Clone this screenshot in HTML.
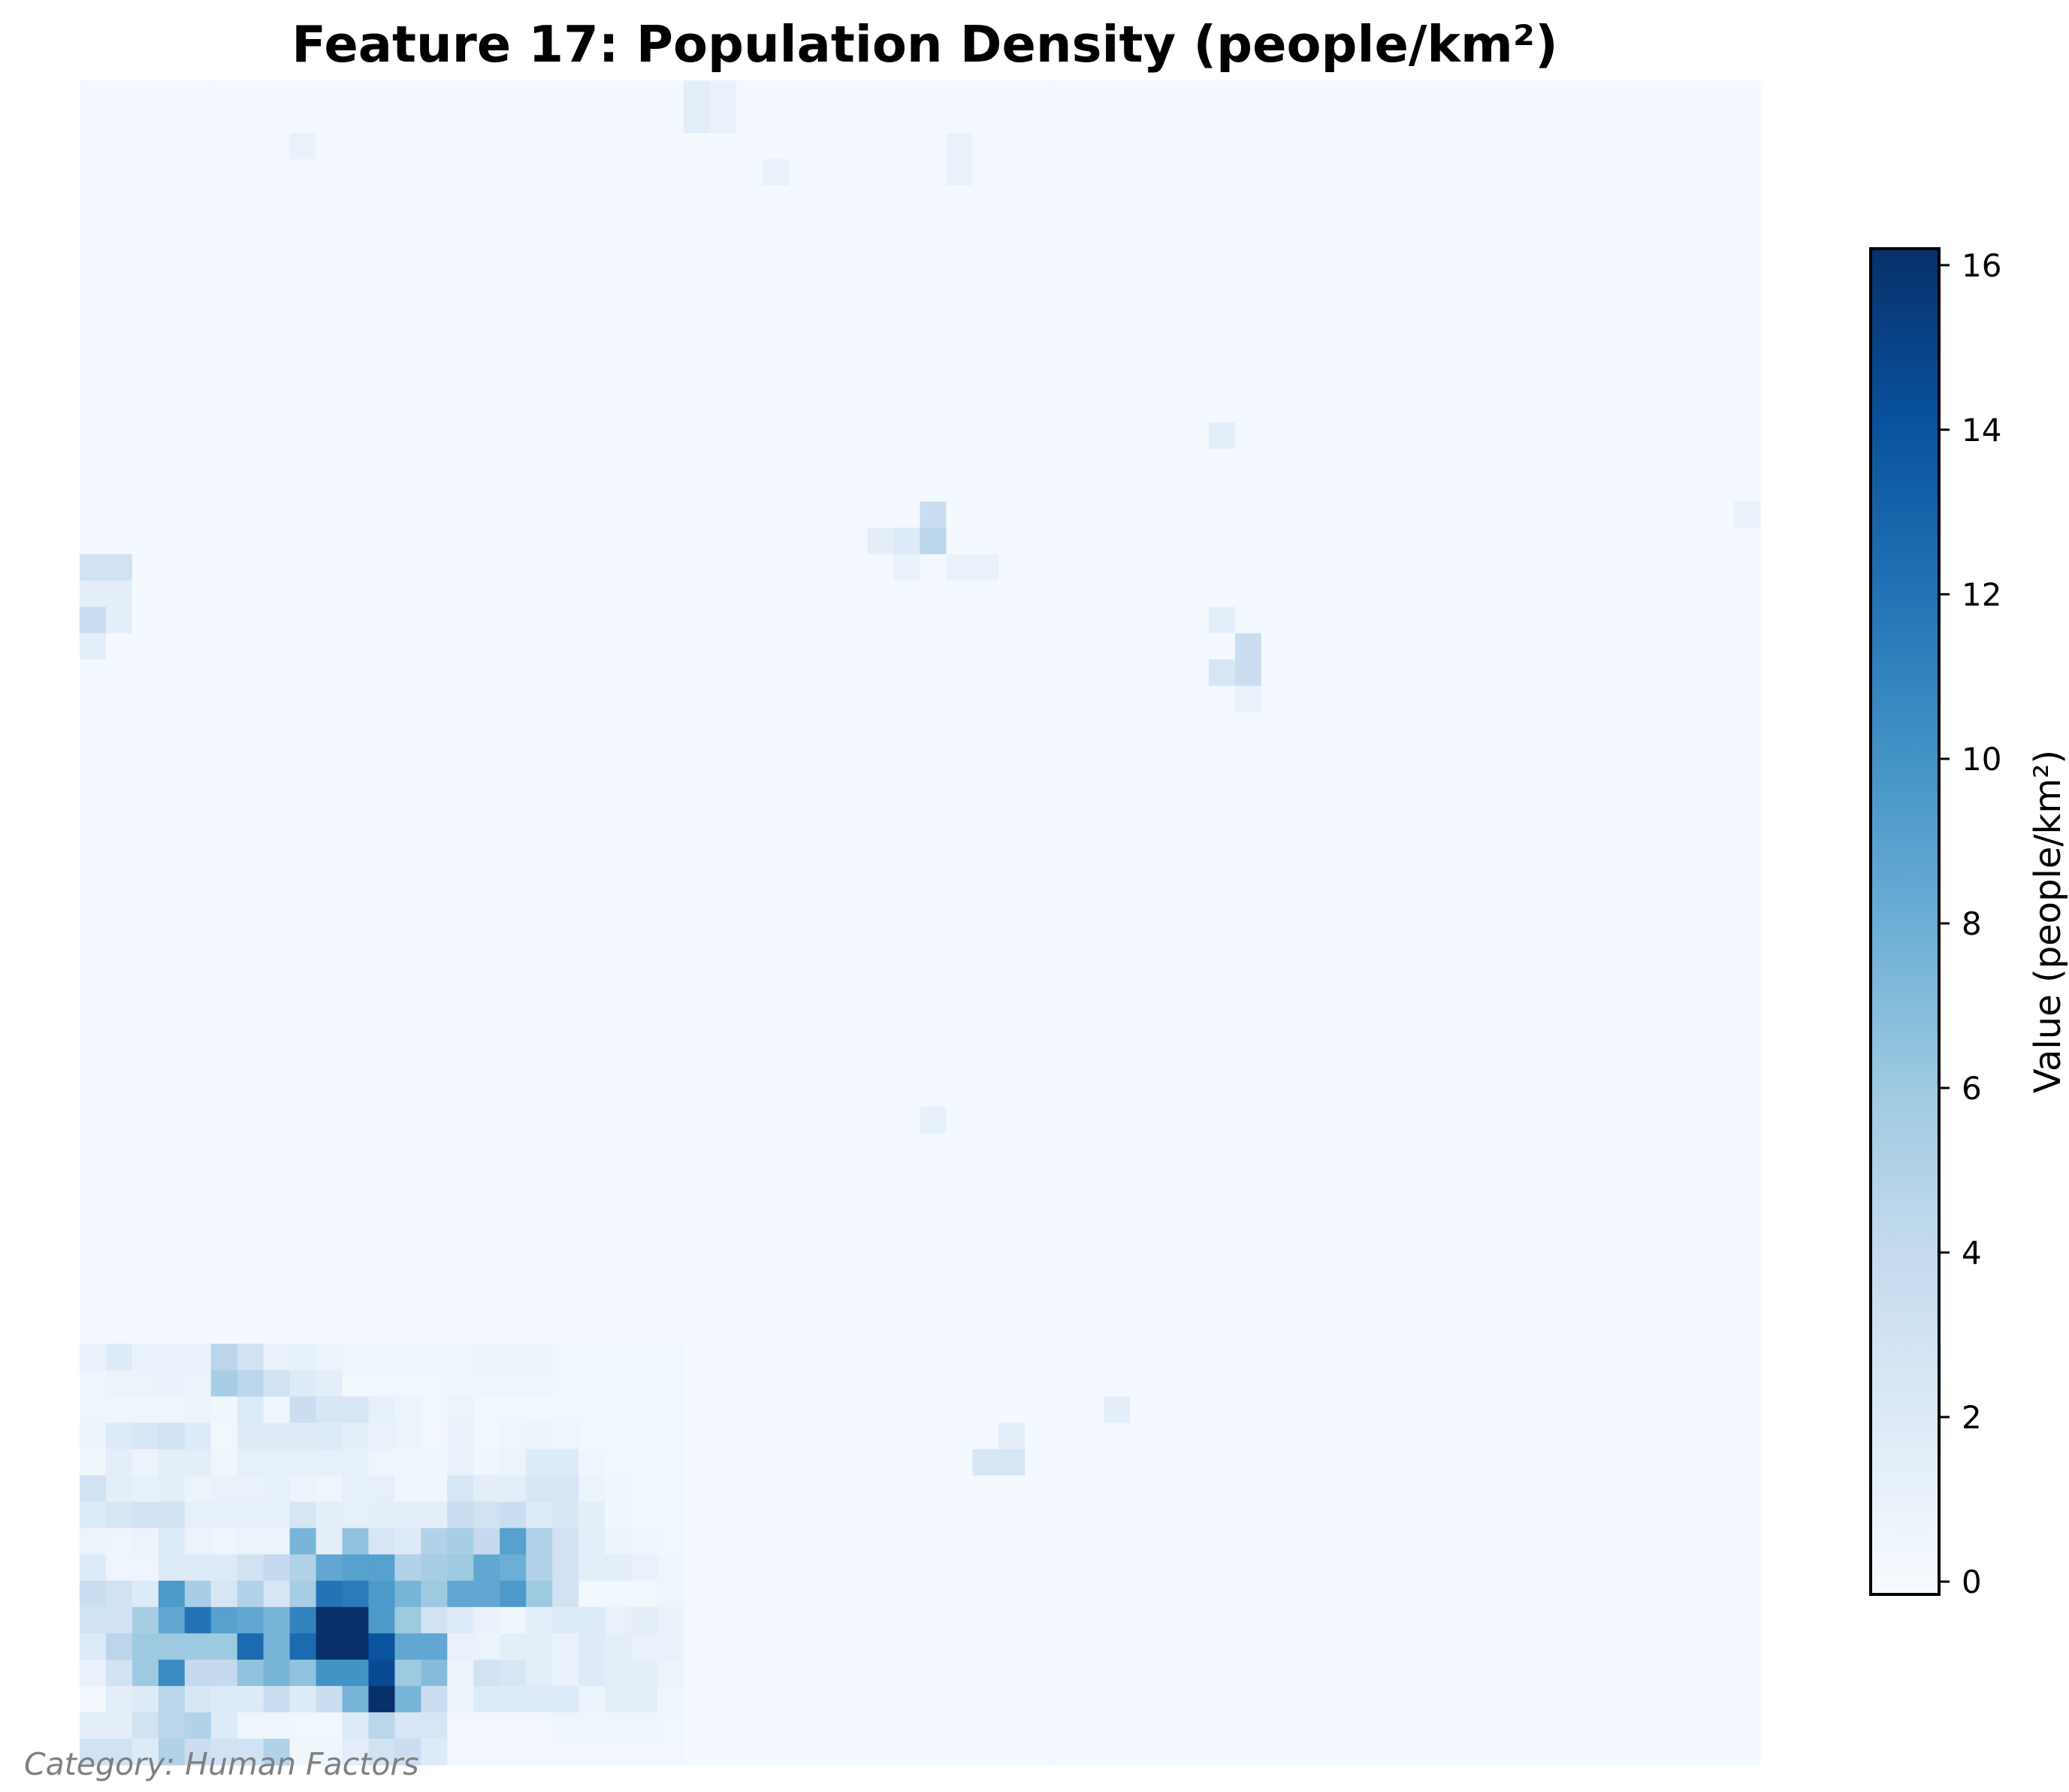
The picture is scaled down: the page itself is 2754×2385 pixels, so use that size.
<!DOCTYPE html>
<html>
<head>
<meta charset="utf-8">
<style>
  html,body{margin:0;padding:0;background:#fff;}
  body{width:2754px;height:2380px;overflow:hidden;}
  text{font-family:"DejaVu Sans","Liberation Sans",sans-serif;}
</style>
</head>
<body>
<svg id="chart" width="2754" height="2380" viewBox="0 0 2754 2380" xmlns="http://www.w3.org/2000/svg">
  <defs>
    <linearGradient id="bluesGrad" x1="0" y1="1" x2="0" y2="0">
      <stop offset="0" stop-color="#f7fbff"/>
      <stop offset="0.125" stop-color="#deebf7"/>
      <stop offset="0.25" stop-color="#c6dbef"/>
      <stop offset="0.375" stop-color="#9ecae1"/>
      <stop offset="0.5" stop-color="#6baed6"/>
      <stop offset="0.625" stop-color="#4292c6"/>
      <stop offset="0.75" stop-color="#2171b5"/>
      <stop offset="0.875" stop-color="#08519c"/>
      <stop offset="1" stop-color="#08306b"/>
    </linearGradient>
  </defs>
  <text x="1231" y="82" font-size="67" font-weight="bold" text-anchor="middle">Feature 17: Population Density (people/km²)</text>
  <g id="cells"></g>
  <g id="colorbar"></g>
  <text x="32" y="2362" font-size="41" font-style="italic" fill="#808080">Category: Human Factors</text>
</svg>
<script>
// ---- data ----
const gridSize = 64;
const baseValue = 0.15;
const clusterStartRow = 48;
// rows 48..63, columns 0..22
const clusterRows = [
  [1,2,1,1,1,4.5,3,1,1.2,0.8,0.5,0.5,0.5,0.5,0.5,0.8,0.8,0.8,0.4,0.4,0.4,0.4,0.4],
  [0.6,0.8,0.8,1,0.8,5.5,4.5,3,2,1.5,0.4,0.4,0.4,0.4,0.6,0.6,0.6,0.6,0.4,0.4,0.4,0.4,0.4],
  [0.6,0.6,0.6,0.6,0.8,0.5,2,0.6,3.5,2.5,2.5,1.2,0.8,0.4,0.8,0.4,0.4,0.4,0.4,0.4,0.4,0.4,0.4],
  [0.8,2,2.5,3,2,0.4,1.8,1.8,1.8,2,1.5,1,0.8,0.3,1,0.4,0.6,0.8,0.6,0.4,0.4,0.4,0.4],
  [0.5,1.5,0.8,1.5,1.5,0.5,1.2,1.2,1.2,1.2,1.2,0.6,0.5,0.5,1,0.5,0.8,2,2,0.6,0.4,0.4,0.4],
  [3,1.5,1.2,1.5,0.8,1,1,1.2,0.8,0.6,1.2,1.2,0.5,0.5,2.5,1.5,1.5,2.5,2.5,0.8,0.5,0.4,0.4],
  [2,2.5,3,3,1.2,1.2,1.2,1.2,2.5,1.5,1.2,1.5,1.5,1.5,3.5,3,3.5,2,2.5,1.5,0.5,0.4,0.4],
  [0.8,0.6,0.8,2,0.8,0.6,0.8,0.8,7.5,1.5,6.5,2.5,2,5,5.5,4,9,5,3,1.5,0.8,0.6,0.4],
  [2,0.6,0.6,2,2,2,3,4,5,8.5,9,9,5,5.5,6,8.5,8,5,3,1.5,1.5,1,0.6],
  [3.5,3,2,9.5,5.5,2.5,5,2.5,5.5,12,11.5,9.5,7.5,6,8.5,8.5,9.5,6,3,0.4,0.4,0.4,0.6],
  [3,3,5.5,8.5,12,9,8.5,7.5,11,16.2,16.2,9.5,6,3,2,1,0.5,1.5,2,2,1,1.5,1],
  [2,4.5,6,6,6,6,12.5,7.5,12.5,16.2,16.2,14,8.5,8.5,1,0.8,1.5,1.5,1,2,1.5,1,1],
  [1,3,6,10.5,4,4,6.5,7.5,6.5,10,10,14.5,6,7,0.8,3,2.5,1.5,1,2,1.5,1.5,0.8],
  [0.3,1.5,2,4.5,2.5,2,2,3.5,2,3.5,7.5,16.2,7.5,3.5,0.8,2,2,2,2,0.8,1.5,1.5,0.6],
  [1.5,1.5,3,4.5,5,2,0.6,0.6,0.4,0.3,2,4.5,2.5,2.5,0.3,0.3,0.3,0.3,0.6,0.6,0.6,0.6,0.4],
  [3,3,2,5,3.5,3,3,5,0.5,0.5,1.5,3,3.5,2,0.3,0.3,0.3,0.3,0.3,0.3,0.3,0.3,0.3]
];
const spotRows = [0,0,1,1,2,3,13,16,17,17,17,18,18,18,18,18,19,19,20,20,21,20,21,22,22,23,39,51,52,52,50,16,2,3];
const spotCols = [23,24,23,24,8,26,43,32,32,31,30,0,1,31,33,34,0,1,0,1,0,43,44,44,43,44,32,35,34,35,39,63,33,33];
const spotVals = [1.5,1,1.5,1,1,1,1.5,3.5,4.5,2,1.5,3,3,1,1,1,1.5,1.5,3.5,1.5,1.5,1.5,3.5,3.5,2.5,1,1.2,1.5,2.5,2.5,1.5,1,1,1];
const tickValues = [0,2,4,6,8,10,12,14,16];
const vMin = -0.155, vMax = 16.2;

// ---- layout ----
const hm = {x:106, y:107, w:2237, h:2242};
const cb = {x:2490, y:331, w:91, h:1791};
const stops = [[247,251,255],[222,235,247],[198,219,239],[158,202,225],[107,174,214],[66,146,198],[33,113,181],[8,81,156],[8,48,107]];

function colorFor(v){
  let t = (v - vMin)/(vMax - vMin);
  t = Math.max(0, Math.min(1, t));
  const p = t*(stops.length-1);
  const i = Math.min(Math.floor(p), stops.length-2);
  const f = p - i;
  const c = stops[i].map((a,k)=>Math.round(a + (stops[i+1][k]-a)*f));
  return `rgb(${c[0]},${c[1]},${c[2]})`;
}
const xScale = c => hm.x + c*hm.w/gridSize;
const yScale = r => hm.y + r*hm.h/gridSize;
const cbScale = v => cb.y + cb.h - (v - vMin)/(vMax - vMin)*cb.h;

const grid = [];
for(let r=0;r<gridSize;r++){ grid.push(new Array(gridSize).fill(baseValue)); }
clusterRows.forEach((row,i)=>row.forEach((v,c)=>{ grid[clusterStartRow+i][c] = v; }));
spotRows.forEach((r,i)=>{ grid[r][spotCols[i]] = spotVals[i]; });

const NS = "http://www.w3.org/2000/svg";
const cellsG = document.getElementById('cells');
for(let r=0;r<gridSize;r++){
  for(let c=0;c<gridSize;c++){
    const rect = document.createElementNS(NS,'rect');
    const x0 = xScale(c), x1 = xScale(c+1), y0 = yScale(r), y1 = yScale(r+1);
    rect.setAttribute('x', x0.toFixed(2));
    rect.setAttribute('y', y0.toFixed(2));
    rect.setAttribute('width', (x1-x0+0.6).toFixed(2));
    rect.setAttribute('height', (y1-y0+0.6).toFixed(2));
    rect.setAttribute('fill', colorFor(grid[r][c]));
    
    
    cellsG.appendChild(rect);
  }
}

const cbG = document.getElementById('colorbar');
const bar = document.createElementNS(NS,'rect');
bar.setAttribute('x', cb.x); bar.setAttribute('y', cb.y);
bar.setAttribute('width', cb.w); bar.setAttribute('height', cb.h);
bar.setAttribute('fill', 'url(#bluesGrad)');
bar.setAttribute('stroke', '#000'); bar.setAttribute('stroke-width', '4');


cbG.appendChild(bar);
tickValues.forEach(v=>{
  const y = cbScale(v);
  const ln = document.createElementNS(NS,'line');
  ln.setAttribute('x1', cb.x+cb.w); ln.setAttribute('x2', cb.x+cb.w+14);
  ln.setAttribute('y1', y); ln.setAttribute('y2', y);
  ln.setAttribute('stroke', '#000'); ln.setAttribute('stroke-width', '3');
  
  
  cbG.appendChild(ln);
  const tx = document.createElementNS(NS,'text');
  tx.setAttribute('x', cb.x+cb.w+30); tx.setAttribute('y', y+15);
  tx.setAttribute('font-size', '42');
  tx.textContent = String(v);
  
  
  cbG.appendChild(tx);
});
const lbl = document.createElementNS(NS,'text');
const lx = 2742, ly = cb.y + cb.h/2;
lbl.setAttribute('x', lx); lbl.setAttribute('y', ly);
lbl.setAttribute('font-size', '48');
lbl.setAttribute('text-anchor', 'middle');
lbl.setAttribute('transform', `rotate(-90 ${lx} ${ly})`);
lbl.textContent = 'Value (people/km²)';


cbG.appendChild(lbl);
</script>
</body>
</html>
